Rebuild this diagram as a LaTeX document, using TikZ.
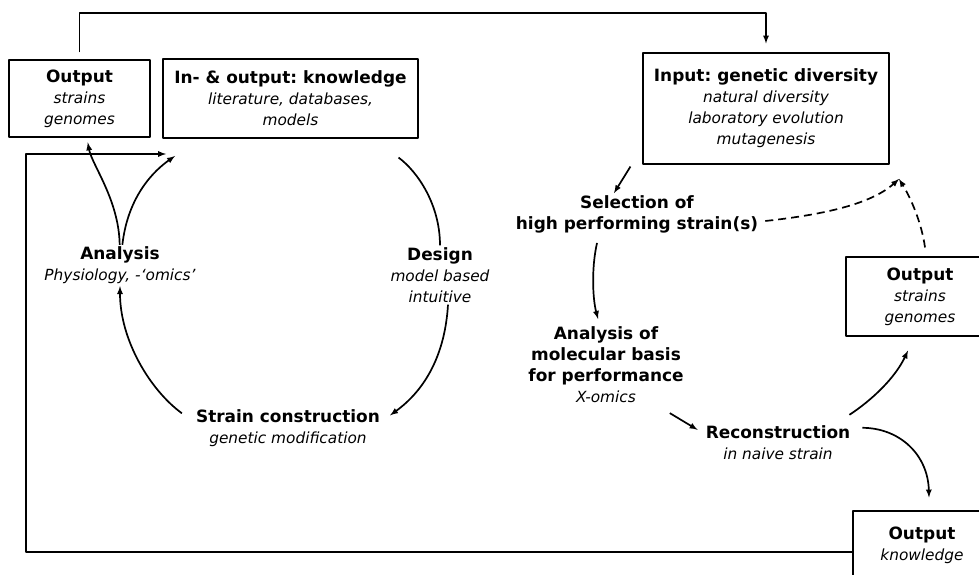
\documentclass[tikz,border=0pt]{standalone}
\usepackage{fontspec}
\setmainfont{DejaVu Sans}
\usetikzlibrary{arrows}
\frenchspacing
\newcommand{\hd}[1]{{\fontsize{17}{21}\selectfont\bfseries\upshape #1}}

\begin{document}
\begin{tikzpicture}[x=1bp,y=-1bp,>=latex,line join=bevel,
  font=\fontsize{15.4}{21}\selectfont\itshape,
  box/.style={draw,line width=1.1bp,align=center,inner sep=0pt},
  lbl/.style={align=center,inner sep=2bp},
  arr/.style={black,line width=1.7bp,->},
  dsh/.style={arr,dash pattern=on 8bp off 5bp}]
%%
\useasboundingbox (0,0) rectangle (979,575);
\node (outL) at (79.5,98.5) [box,minimum width=141bp,minimum height=77bp] {\hd{Output}\\strains\\genomes};
  \node (know) at (290.5,98.5) [box,minimum width=255bp,minimum height=79bp] {\hd{In- \& output: knowledge}\\literature, databases,\\models};
  \node (input) at (766,108.5) [box,minimum width=246bp,minimum height=111bp] {\hd{Input: genetic diversity}\\natural diversity\\laboratory evolution\\mutagenesis};
  \node (outR) at (920,296.5) [box,minimum width=148bp,minimum height=79bp] {\hd{Output}\\strains\\genomes};
  \node (outB) at (922,545) [box,minimum width=138bp,minimum height=68bp] {\hd{Output}\\knowledge};
  \node (analysis) at (120,265.5) [lbl] {\hd{Analysis}\\Physiology, -`omics'};
  \node (design) at (440,275) [lbl] {\hd{Design}\\model based\\intuitive};
  \node (strain) at (288,428) [lbl] {\hd{Strain construction}\\genetic modification};
  \node (select) at (637,214) [lbl] {\hd{Selection of}\\\hd{high performing strain(s)}};
  \node (molec) at (606,365) [lbl] {\hd{Analysis of}\\\hd{molecular basis}\\\hd{for performance}\\X-omics};
  \node (recon) at (778,443) [lbl] {\hd{Reconstruction}\\in naive strain};
  \coordinate (topR) at (766,13);
  \coordinate (fbTL) at (26,154);
  \coordinate (knowIn) at (166,154);
  \coordinate (divIn) at (899,179);
%
  \draw [arr] ([yshift=7bp]outL.north) |- (topR) -- ([yshift=9bp]input.north);
  \draw [arr] ([yshift=-7bp]outB.west) -| (fbTL) -- (knowIn);
  \draw [arr,shorten >=5bp] (analysis) ..controls (119,200) and (92,165)  .. (outL);
  \draw [arr] (analysis) ..controls (128,195) and (155,170)  .. ([shift={(9bp,-2bp)}]knowIn);
  \draw [black,line width=1.7bp] ([shift={(-20bp,-19bp)}]know.south east) ..controls (418,172) and (440,205)  .. (design);
  \draw [arr] ([xshift=8bp]design.south) ..controls (445,355) and (425,390)  .. ([xshift=8bp,yshift=-8bp]strain.north east);
  \draw [arr] ([xshift=-12bp,yshift=-6bp]strain.north west) ..controls (150,390) and (120,340)  .. (analysis);
  \draw [arr] ([xshift=-12bp,yshift=-2bp]input.south west) -- ([xshift=-23bp]select.north);
  \draw [dsh] ([xshift=5bp,yshift=-7bp]select.east) ..controls (820,215) and (870,205)  .. (divIn);
  \draw [dsh] ([xshift=5bp,yshift=9bp]outR.north) ..controls (922,225) and (912,200)  .. (divIn);
  \draw [arr] ([xshift=-40bp,yshift=-8bp]select.south) ..controls (591,270) and (593,300)  .. ([xshift=-8bp,yshift=6bp]molec.north);
  \draw [arr] ([xshift=-16bp,yshift=-8bp]molec.south east) -- ([xshift=-6bp,yshift=-6bp]recon.north west);
  \draw [arr] ([xshift=-3bp,yshift=9bp]recon.north east) ..controls (872,400) and (895,378)  .. ([xshift=-12bp,yshift=-14bp]outR.south);
  \draw [arr] ([xshift=10bp,yshift=-4bp]recon.north east) ..controls (900,428) and (928,455)  .. ([xshift=7bp,yshift=13bp]outB.north);
%
\end{tikzpicture}
\end{document}
